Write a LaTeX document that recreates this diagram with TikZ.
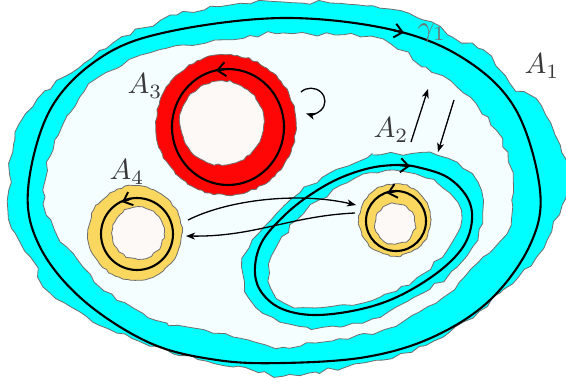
\documentclass[tikz,border=0pt]{standalone}
\usetikzlibrary{decorations.pathmorphing,arrows.meta}
\definecolor{cyanA}{RGB}{0,255,255}
\definecolor{lightA}{RGB}{245,254,255}
\definecolor{redA}{RGB}{255,6,6}
\definecolor{yellowA}{RGB}{250,216,96}
\definecolor{holeA}{RGB}{253,249,247}
\definecolor{edgeA}{RGB}{110,110,110}
\tikzset{
  bigjag/.style={decorate, decoration={random steps, segment length=9pt, amplitude=2.4pt}},
  smalljag/.style={decorate, decoration={random steps, segment length=4pt, amplitude=1pt}},
  region/.style={draw=edgeA, line width=0.8pt, line join=round},
  loopline/.style={line width=2.1pt, line cap=round},
  barbhead/.style={line width=2.1pt, -{Straight Barb[length=8pt, width=14pt, line width=1.9pt]}},
  thinarrow/.style={line width=1.3pt, -{Stealth[length=9pt, width=7pt, inset=2.5pt]}},
  lab/.style={text=black!78, scale=2.9, transform shape, inner sep=0pt}
}
\begin{document}
\begin{tikzpicture}[x=1pt,y=-1pt]
\pgfmathsetseed{11}
\useasboundingbox (0,0) rectangle (566,381);
\fill[white] (0,0) rectangle (566,381);

% A1 outer cyan band
\path[region, fill=cyanA, bigjag] plot[smooth cycle, tension=0.6] coordinates {
 (283,2) (330,3) (373,6) (423,20) (453,37) (483,50) (510,83) (535,100) (555,135)
 (569,170) (562,205) (536,257) (500,293) (443,337) (383,360) (316,372) (283,376)
 (233,367) (167,350) (117,333) (80,312) (50,292) (30,257) (12,228) (9,190)
 (15,140) (33,107) (62,78) (113,43) (177,15) (230,5)};
% A1 inner light region
\path[region, fill=lightA, bigjag] plot[smooth cycle, tension=0.6] coordinates {
 (283,33) (335,35) (383,40) (426,67) (463,93) (496,130) (513,173) (512,200)
 (510,225) (483,257) (443,297) (383,330) (316,343) (283,347) (233,337) (167,323)
 (117,300) (83,267) (55,230) (43,190) (53,150) (70,113) (100,77) (150,53) (215,40)};

% A3 red ring
\path[region, fill=redA, smalljag] (226,125) circle[radius=70];
\path[region, fill=holeA, smalljag] (222,123) circle[radius=42];

% A4 yellow ring
\path[region, fill=yellowA, smalljag] (135,233) circle[radius=47];
\path[region, fill=holeA, smalljag] (138,233) circle[radius=26];

% A2 cyan band
\path[region, fill=cyanA, bigjag] plot[smooth cycle, tension=0.6] coordinates {
 (357,162) (373,155) (403,155) (430,153) (457,163) (477,183) (482,213) (477,240)
 (457,267) (423,293) (380,317) (340,327) (307,327) (273,317) (250,297) (243,267)
 (253,240) (277,213) (300,193) (330,173)};
\path[region, fill=lightA, bigjag] plot[smooth cycle, tension=0.6] coordinates {
 (347,183) (377,173) (407,173) (437,183) (457,203) (460,227) (447,250) (417,277)
 (380,297) (340,305) (303,307) (277,297) (270,273) (277,247) (297,220) (320,200)};

% small yellow ring
\path[region, fill=yellowA, smalljag] (395,220) circle[radius=36];
\path[region, fill=holeA, smalljag] (395,224) circle[radius=20];

% gamma_1 loop
\draw[loopline] plot[smooth cycle, tension=0.6] coordinates {
 (283,18) (393,30) (466,60) (516,110) (540,190) (530,245) (490,300) (433,337)
 (366,357) (283,363) (217,360) (150,343) (83,300) (40,247) (28,190) (50,110)
 (100,58) (167,32)};
\draw[barbhead] (394,30.4) -- (404,32.6);

% A2 loop
\draw[loopline] plot[smooth cycle, tension=0.6] coordinates {
 (340,178) (370,168) (397,165) (417,167) (447,177) (467,197) (472,220) (463,247)
 (437,273) (397,297) (357,310) (313,315) (280,308) (260,290) (255,267) (263,240)
 (287,213) (313,193)};
\draw[barbhead] (400,165.2) -- (410,166.3);

% ring loops
\draw[loopline] (228,127) ellipse[x radius=56, y radius=58];
\draw[barbhead] (226,69.1) -- (216,70.6);
\draw[loopline] (137,234) circle[radius=36];
\draw[barbhead] (131,198.5) -- (122,202.2);
\draw[loopline] (396,221) circle[radius=30];
\draw[barbhead] (396,191) -- (387,193.3);

% arrows
\coordinate (p1) at (188,220);
\coordinate (q1) at (356,205);
\coordinate (p2) at (355,213);
\coordinate (q2) at (186,236);
\draw[thinarrow] (p1) .. controls (230,199) and (300,192) .. (q1);
\draw[thinarrow] (p2) .. controls (290,216) and (255,237) .. (q2);

\coordinate (u1) at (411,142);
\coordinate (u2) at (428,89);
\coordinate (d1) at (454,100);
\coordinate (d2) at (438,152);
\draw[thinarrow] (u1) -- (u2);
\draw[thinarrow] (d1) -- (d2);

\coordinate (r1) at (301,92);
\draw[thinarrow] (r1) arc[start angle=225, end angle=470, x radius=14, y radius=13];

% labels
\node[lab] (lA1) at (542,66) {$A_1$};
\node[lab] (lA2) at (391,130) {$A_2$};
\node[lab] (lA3) at (145,86) {$A_3$};
\node[lab] (lA4) at (127,172) {$A_4$};
\node[lab, text=black!55] (lg1) at (432,33) {$\gamma_1$};
\end{tikzpicture}
\end{document}
